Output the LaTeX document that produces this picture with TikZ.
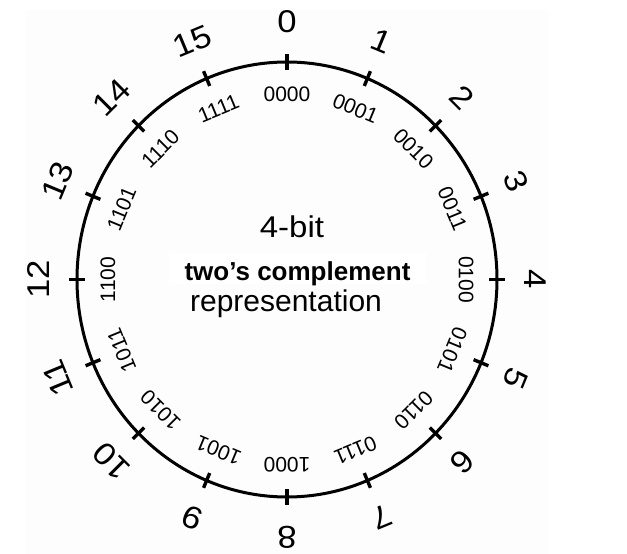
\documentclass[tikz,border=0pt]{standalone}
\usepackage{fontspec}
\setmainfont{Liberation Sans}
\definecolor{bgcol}{RGB}{253,253,253}
\begin{document}
\begin{tikzpicture}[x=1pt,y=1pt,
  outerlbl/.style={font=\fontsize{31.5}{31.5}\selectfont, inner sep=0pt},
  innerlbl/.style={font=\fontsize{21}{21}\selectfont, inner sep=0pt},
  tickmark/.style={line width=3.4pt},
  ring/.style={line width=3pt},
  centertext/.style={inner sep=0pt, anchor=base}]
\useasboundingbox (-287,-274.5) rectangle (340,279.5);
\fill[bgcol] (-262,-274.5) rectangle (262,269.5);
\fill[white] (-118,26.5) rectangle (139,-4.5);
\draw[ring] (0,0) ellipse [x radius=210, y radius=217.5];
\foreach \k/\bin in {0/0000,1/0001,2/0010,3/0011,4/0100,5/0101,6/0110,7/0111,8/1000,9/1001,10/1010,11/1011,12/1100,13/1101,14/1110,15/1111} {
  \pgfmathsetmacro\t{90-22.5*\k}
  \pgfmathsetmacro\r{-22.5*\k}
  \draw[tickmark] ({202*cos(\t)},{209.5*sin(\t)}) -- ({218*cos(\t)},{225.5*sin(\t)});
  \node[outerlbl, rotate=\r] (o\k) at ({248*cos(\t)},{257.5*sin(\t)}) {\scalebox{1.1}[1]{\k}};
  \node[innerlbl, rotate=\r] (i\k) at ({179*cos(\t)},{185*sin(\t)}) {\bin};
}
\node[centertext, font=\fontsize{30}{30}\selectfont] (t1) at (5,42.2) {\scalebox{1.1}[1]{4-bit}};
\node[centertext, font=\fontsize{26}{26}\selectfont\bfseries] (t2) at (10.5,-1.5) {two’s complement};
\node[centertext, font=\fontsize{30}{30}\selectfont] (t3) at (-1,-32.5) {representation};
\end{tikzpicture}
\end{document}
